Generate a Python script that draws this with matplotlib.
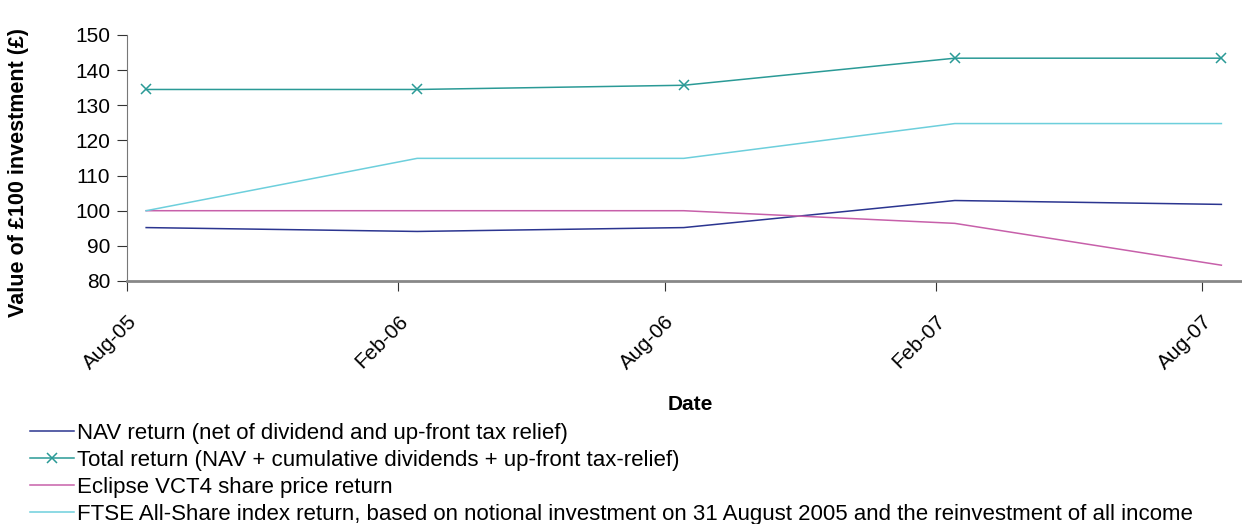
import datetime as dt
import matplotlib
matplotlib.use("Agg")
import matplotlib.pyplot as plt
import matplotlib.dates as mdates

plt.rcParams["font.family"] = ["Liberation Sans", "DejaVu Sans"]

# data
dates = [dt.date(2005, 8, 14), dt.date(2006, 2, 14), dt.date(2006, 8, 14),
         dt.date(2007, 2, 14), dt.date(2007, 8, 14)]
tick_dates = [dt.date(2005, 8, 1), dt.date(2006, 2, 1), dt.date(2006, 8, 1),
              dt.date(2007, 2, 1), dt.date(2007, 8, 1)]
nav_return = [95.2, 94.1, 95.2, 102.9, 101.8]
total_return = [134.5, 134.5, 135.7, 143.4, 143.4]
eclipse_share = [100.0, 100.0, 100.0, 96.4, 84.5]
ftse_all_share = [100.0, 114.9, 114.9, 124.8, 124.8]

labels = [
    "NAV return (net of dividend and up-front tax relief)",
    "Total return (NAV + cumulative dividends + up-front tax-relief)",
    "Eclipse VCT4 share price return",
    "FTSE All-Share index return, based on notional investment on 31 August 2005 and the reinvestment of all income",
]

fig = plt.figure(figsize=(12.42, 5.24), dpi=100)
ax = fig.add_axes([127 / 1242, 1 - 281 / 524, 1 - 127 / 1242, (281 - 35) / 524])

l1, = ax.plot(dates, nav_return, color="#2b3590", lw=1.1)
l2, = ax.plot(dates, total_return, color="#2a9a96", lw=1.1, marker="x", ms=7, mew=1.1)
l3, = ax.plot(dates, eclipse_share, color="#c760aa", lw=1.1)
l4, = ax.plot(dates, ftse_all_share, color="#6dcfdc", lw=1.1)

ax.set_ylim(80, 150)
ax.set_yticks(range(80, 151, 10))
ax.set_xlim(dt.date(2005, 8, 1), dt.date(2007, 8, 28))
ax.set_xticks(tick_dates)
ax.xaxis.set_major_formatter(mdates.DateFormatter("%b-%y"))
for t in ax.get_xticklabels():
    t.set_rotation(45)
    t.set_ha("right")
    t.set_rotation_mode("anchor")

ax.tick_params(axis="both", labelsize=15, direction="out", length=7, color="#333333")
ax.tick_params(axis="x", pad=15)
ax.tick_params(axis="y", pad=5)
for s in ["top", "right"]:
    ax.spines[s].set_visible(False)
ax.spines["left"].set_color("#777777")
ax.spines["bottom"].set_color("#888888")
ax.spines["bottom"].set_linewidth(2)

ax.set_ylabel("Value of £100 investment (£)", fontsize=15.5, fontweight="bold")
ax.yaxis.set_label_coords(-0.088, 0.44)
fig.text(690 / 1242, 1 - 405 / 524, "Date", fontsize=15, fontweight="bold", ha="center", va="center")

fig.legend([l1, l2, l3, l4], labels, loc="upper left", bbox_to_anchor=(30 / 1242, 1 - 423 / 524),
           frameon=False, fontsize=16, handlelength=2.0, handletextpad=0.1,
           labelspacing=0.27, borderaxespad=0, borderpad=0)

fig.savefig("out.png", dpi=100)
